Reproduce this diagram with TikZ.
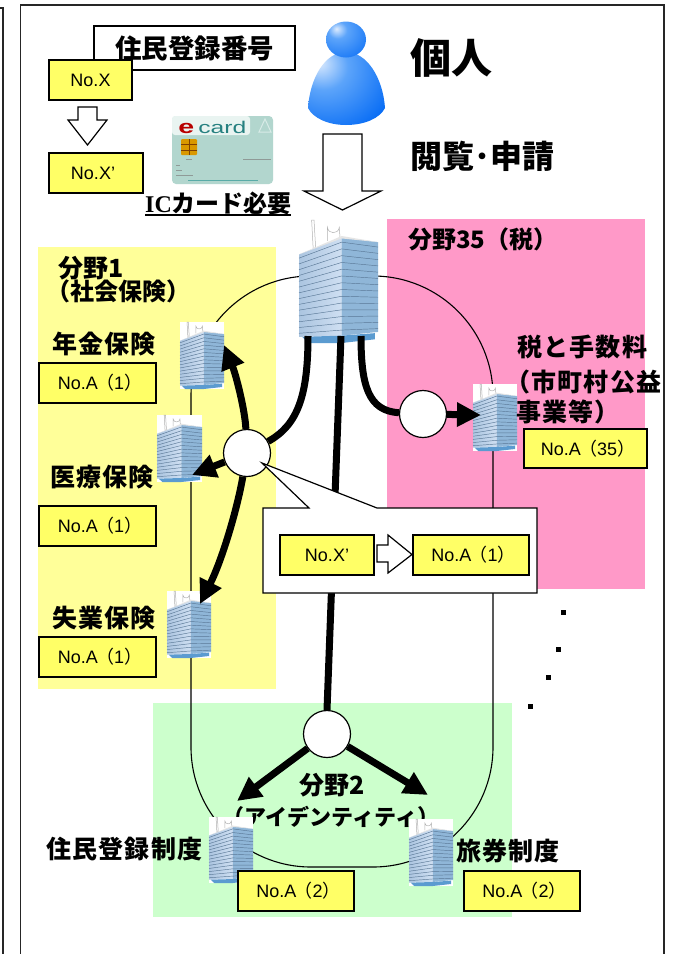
\documentclass[tikz,border=0pt]{standalone}
\usepackage{fontspec}
\usetikzlibrary{arrows.meta}
\setmainfont{Liberation Sans}
\newfontfamily\jp{Noto Sans CJK JP}
\newfontfamily\jpsp{Noto Sans CJK JP}[LetterSpace=5]
\newfontfamily\icserif{Liberation Serif}
\newcommand{\lp}{{\jp\hspace*{-2pt}（}}
\newcommand{\rp}{{\jp ）\hspace*{-5pt}}}
\definecolor{panelY}{HTML}{FFFF99}
\definecolor{panelP}{HTML}{FF99C8}
\definecolor{panelG}{HTML}{CCFFCC}
\definecolor{tagY}{HTML}{FFFF66}
\definecolor{pblue}{HTML}{0A6EF5}
\definecolor{pmid}{HTML}{5CA4FA}
\definecolor{plight}{HTML}{DCEBFE}
\definecolor{faceL}{HTML}{CFDFF2}
\definecolor{faceLb}{HTML}{ABC5E0}
\definecolor{faceR}{HTML}{8FB6D8}
\definecolor{bline}{HTML}{5A7896}
\definecolor{bbase}{HTML}{5B9BD0}
\definecolor{cardc}{HTML}{B2D6CE}
\pgfdeclareradialshading{headsh}{\pgfpoint{-12bp}{15bp}}{color(0bp)=(plight); color(12bp)=(pmid); color(45bp)=(pblue); color(100bp)=(pblue)}
\pgfdeclareradialshading{bodysh}{\pgfpoint{-18bp}{18bp}}{color(0bp)=(plight); color(16bp)=(pmid); color(42bp)=(pblue); color(100bp)=(pblue)}
\tikzset{
  framing/.style={draw=black!85,line width=1.3pt},
  ringline/.style={draw=black,line width=1.1pt},
  numbox/.style={draw=black,fill=tagY,line width=1.5pt,inner sep=0pt,text=black,font=\fontsize{18}{18}\selectfont},
  hub/.style={circle,draw=black,fill=white,line width=1.2pt,minimum size=47pt,inner sep=0pt},
  flow/.style={draw=black,line width=7pt},
  flowtip/.style={draw=black,line width=7pt,-{Triangle[width=23pt,length=24pt]}},
  blockarrow/.style={draw=black,fill=white,line width=1.2pt,line join=miter},
  bldgnode/.style={inner sep=0pt,fill=white,draw=none},
  lab/.style={inner sep=0pt,font=\jpsp\bfseries\fontsize{25}{25}\selectfont,text=black},
  labb/.style={inner sep=0pt,font=\jp\bfseries\fontsize{24}{24}\selectfont,text=black},
  bldg/.pic={
    \draw[gray!60,fill=white,line width=.5pt] (16,0) -- (19,0) -- (21,22) -- (18,24) -- cycle;
    \draw[gray!60,line width=.5pt] (36,17) -- (36,6) to[out=-80,in=-100] (51,6) -- (52,15);
    \shade[left color=faceLb,right color=faceL] (0,28) -- (54,14) -- (54,94) -- (0,95) -- cycle;
    \fill[faceR] (54,14) -- (100,18) -- (100,91) -- (54,94) -- cycle;
    \fill[white!80!gray] (0,28) -- (54,13) -- (100,18) -- (54,15) -- cycle;
    \fill[bbase] (4,95) -- (54,94) -- (96,92) -- (96,97) -- (54,100) -- (12,100) -- cycle;
    \foreach \i in {0,...,13}{
      \pgfmathsetmacro{\ya}{31+\i*4.7}
      \pgfmathsetmacro{\yb}{18+\i*5.5}
      \pgfmathsetmacro{\yc}{22+\i*5.1}
      \draw[bline,line width=.45pt] (0,\ya) -- (54,\yb) -- (100,\yc);
    }
  }
}
\newcommand{\putbldg}[5]{%
  \node[bldgnode,anchor=north west,minimum width=#4pt,minimum height=#5pt] (#1) at (#2,#3) {};
  \pgfmathsetmacro{\sx}{#4/100}\pgfmathsetmacro{\sy}{#5/100}
  \pic[xscale=\sx,yscale=\sy] at (#2,#3) {bldg};
}
\begin{document}
\begin{tikzpicture}[x=1pt,y=-1pt]
\useasboundingbox (0,0) rectangle (675,954);
\fill[white] (0,0) rectangle (675,954);
% frames
\draw[framing] (0,8) -- (3,8) -- (3,954);
\draw[framing] (20.5,954) -- (20.5,5) -- (664,5) -- (664,954);
% panels
\fill[panelY] (38,247) rectangle (276,689);
\fill[panelP] (387,219) rectangle (645,589);
\fill[panelG] (153,703) rectangle (512,917);
% ring
\draw[ringline,rounded corners=120pt] (191,276) rectangle (493,867);
% top left
\node[draw=black,fill=white,line width=1.4pt,minimum width=201pt,minimum height=44pt,inner sep=0pt,font=\jp\bfseries\fontsize{26.5}{26.5}\selectfont] (title) at (194.5,48) {住民登録番号};
\node[numbox,minimum width=83pt,minimum height=40pt] (nox) at (90.5,80) {No.X};
\node[numbox,minimum width=94pt,minimum height=40pt] (noxp) at (96,173) {No.X’\hspace*{6pt}};
\draw[blockarrow] (78,107) -- (97,107) -- (97,120) -- (107,120) -- (87.5,145) -- (68,120) -- (78,120) -- cycle;
% card
\fill[cardc,rounded corners=4pt] (172,116) rectangle (273,184);
\fill[white!72!cardc,rounded corners=3pt] (172,116) -- (250,116) -- (250,135) -- (172,135) -- cycle;
\node[inner sep=0pt,anchor=base west,xscale=1.5,transform shape,font=\bfseries\fontsize{19}{19}\selectfont,text=red!72!black] (carde) at (178,133) {e};
\node[inner sep=0pt,anchor=base west,xscale=1.45,transform shape,font=\fontsize{17}{17}\selectfont,text=teal!70!gray] (cardt) at (198,133) {card};
\draw[white!50!cardc,line width=1pt] (265,119) -- (271,132) -- (259,132) -- cycle;
\fill[orange!60!yellow!85!black,rounded corners=1pt] (181,139) rectangle (197,155);
\draw[orange!50!black,line width=.3pt] (181,144) -- (197,144) (181,150) -- (197,150) (189,139) -- (189,155);
\draw[gray!70!cardc,line width=.7pt] (186,159) -- (192,159) (243,159) -- (271,159) (176,165) -- (180,165) (176,170) -- (182,170) (176,175) -- (193,175);
\draw[teal!50!cardc,line width=.7pt] (188,180) -- (258,180);
\node[inner sep=0pt,anchor=west,font=\bfseries\fontsize{24}{24}\selectfont] (ic) at (145,203) {{\icserif IC}{\jp カード必要}};
\draw[black,line width=1.6pt] (145,215) -- (291,215);
% person
\path[shading=bodysh] (308,108) .. controls (310,78) and (325,52) .. (346,52) .. controls (367,52) and (383,78) .. (385,108) .. controls (380,118) and (365,125) .. (346,125) .. controls (328,125) and (313,118) .. (308,108) -- cycle;
\path[shading=headsh] (346,39.5) ellipse [x radius=20,y radius=18];
\node[inner sep=0pt,font=\jp\bfseries\fontsize{41}{41}\selectfont] (kojin) at (451,58) {個人};
\node[inner sep=0pt,font=\jp\bfseries\fontsize{32}{32}\selectfont] (etsuran) at (482,156) {閲覧･申請};
\draw[blockarrow] (323,134) -- (362,134) -- (362,191) -- (381,191) -- (342.5,210) -- (304,191) -- (323,191) -- cycle;
% panel titles
\node[labb,anchor=west] (f35) at (408,239) {分野35（税）};
\node[labb,anchor=west,font=\jp\bfseries\fontsize{25}{25}\selectfont] (f1a) at (58,268) {分野1};
\node[labb,anchor=west] (f1b) at (46,291) {（社会保険）};
\node[labb,font=\jp\bfseries\fontsize{25}{25}\selectfont] (f2a) at (332,785) {分野2};
\node[labb,font=\jp\bfseries\fontsize{22}{22}\selectfont] (f2b) at (331,817) {（アイデンティティ）};
% buildings
\putbldg{hq}{299}{220}{79}{123}
\putbldg{nenkin}{180}{322}{44}{67}
\putbldg{iryo}{157}{415}{45}{67}
\putbldg{shitsu}{167}{591}{44}{67}
\putbldg{zei}{473}{384}{44}{67}
\putbldg{jumin}{209}{817}{44}{66}
\putbldg{ryoken}{409}{819}{44}{67}
% labels
\node[lab,anchor=west] (lnenkin) at (52,344) {年金保険};
\node[lab,anchor=west] (liryo) at (50,477) {医療保険};
\node[lab,anchor=west] (lshitsu) at (52,618) {失業保険};
\node[lab,anchor=west] (lzei1) at (517,347) {税と手数料};
\node[lab,anchor=west] (lzei2) at (505,382) {（市町村公益};
\node[lab,anchor=west] (lzei3) at (516,412) {事業等）};
\node[lab,anchor=west] (ljumin) at (46,849) {住民登録制度};
\node[lab,anchor=west] (lryoken) at (456,851) {旅券制度};
% tags
\node[numbox,minimum width=117pt,minimum height=40pt] (tA) at (97.5,383) {No.A\lp 1\rp};
\node[numbox,minimum width=117pt,minimum height=40pt] (tB) at (97.5,526) {No.A\lp 1\rp};
\node[numbox,minimum width=117pt,minimum height=40pt] (tC) at (97.5,657) {No.A\lp 1\rp};
\node[numbox,minimum width=123pt,minimum height=39pt] (tD) at (585.5,448.5) {No.A\lp 35\rp};
\node[numbox,minimum width=116pt,minimum height=40pt] (tE) at (296,891) {No.A\lp 2\rp};
\node[numbox,minimum width=116pt,minimum height=40pt] (tF) at (522,891) {No.A\lp 2\rp};
% hubs
\node[hub] (hubA) at (247,453) {};
\node[hub] (hubB) at (423,414) {};
\node[hub] (hubC) at (327,734) {};
% connector ends
\coordinate (hqL) at (308,336);
\coordinate (hqM) at (341,336);
\coordinate (hqR) at (361,336);
\coordinate (tipN) at (224,345);
\coordinate (tipI) at (192,475);
\coordinate (tipS) at (200,604);
\coordinate (tipZ) at (481,415);
\coordinate (tipJ) at (237,801);
\coordinate (tipR) at (428,795);
% connectors
\draw[flow] (hqM) -- (hubC.north);
\draw[flow] (hqL) .. controls (308,395) and (298,425) .. (hubA);
\draw[flow] (hqR) .. controls (361,385) and (368,411) .. (hubB);
\draw[flowtip] (hubB) -- (tipZ);
\draw[flowtip] (hubA) .. controls (245,410) and (236,375) .. (tipN);
\draw[flowtip] (hubA) -- (tipI);
\draw[flowtip] (hubA) .. controls (237,510) and (222,560) .. (tipS);
\draw[flowtip] (hubC) -- (tipJ);
\draw[flowtip] (hubC) -- (tipR);
% callout
\coordinate (ptr) at (262,463);
\draw[draw=black,fill=white,line width=1.2pt,line join=miter] (263,508) -- (309,508) -- (ptr) -- (377,508) -- (537,508) -- (537,593) -- (263,593) -- cycle;
\node[numbox,minimum width=94pt,minimum height=40pt] (cX) at (327,555) {No.X’};
\node[numbox,minimum width=116pt,minimum height=40pt] (cA) at (471,555) {No.A\lp 1\rp};
\draw[blockarrow] (377,545) -- (388,545) -- (388,535) -- (412,554.5) -- (388,573) -- (388,562) -- (377,562) -- cycle;
% dots
\foreach \dx/\dy in {563/612,558/649,548/677,530/706}{
  \fill[black] (\dx-2.5,\dy-2.5) rectangle (\dx+2.5,\dy+2.5);
}
\end{tikzpicture}
\end{document}
